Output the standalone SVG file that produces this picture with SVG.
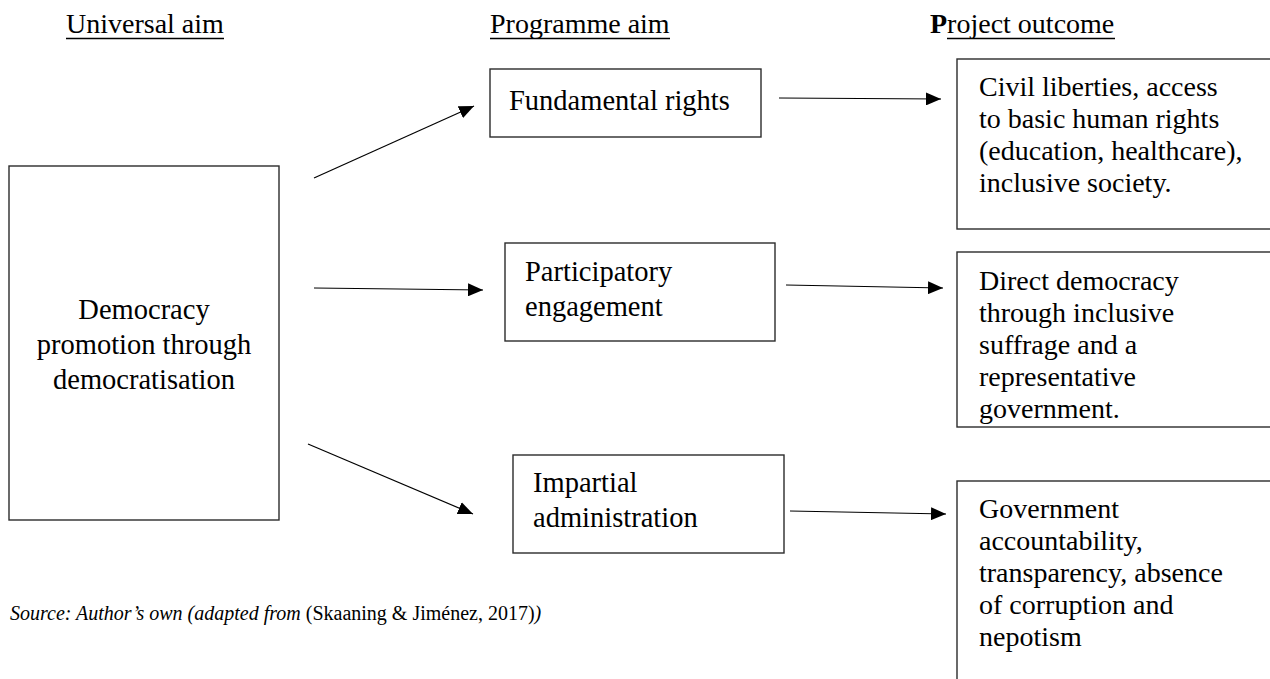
<svg xmlns="http://www.w3.org/2000/svg" width="1270" height="679" viewBox="0 0 1270 679">
  <defs>
    <marker id="arrow" markerWidth="15" markerHeight="13" refX="15" refY="6.5" orient="auto" markerUnits="userSpaceOnUse">
      <path d="M0,0 L15,6.5 L0,13 Z" fill="#000"/>
    </marker>
    <style>
      .box { fill: #fff; stroke: #2b2b2b; stroke-width: 1.4; }
      .lbl { font-family: "Liberation Serif", "Times New Roman", serif; font-size: 28.5px; fill: #000; }
      .out { font-family: "Liberation Serif", "Times New Roman", serif; font-size: 28px; fill: #000; }
      .head { font-family: "Liberation Serif", "Times New Roman", serif; font-size: 28px; fill: #000; }
      .ul { stroke: #000; stroke-width: 1.4; }
      .conn { stroke: #000; stroke-width: 1.2; fill: none; marker-end: url(#arrow); }
      .cap { font-family: "Liberation Serif", "Times New Roman", serif; font-size: 20px; fill: #000; }
    </style>
  </defs>
  <rect width="1270" height="679" fill="#fff"/>

  <!-- column headings -->
  <g id="headings">
    <text class="head" x="66" y="33">Universal aim</text>
    <line class="ul" x1="66" y1="38.5" x2="224" y2="38.5"/>
    <text class="head" x="490" y="33">Programme aim</text>
    <line class="ul" x1="490" y1="38.5" x2="670" y2="38.5"/>
    <text class="head" x="930" y="33"><tspan font-weight="bold">P</tspan>roject outcome</text>
    <line class="ul" x1="947" y1="38.5" x2="1115" y2="38.5"/>
  </g>

  <!-- universal aim -->
  <g id="node-democracy">
    <rect class="box" x="9" y="166" width="270" height="354"/>
    <text class="lbl" text-anchor="middle" x="144" y="319">Democracy</text>
    <text class="lbl" text-anchor="middle" x="144" y="354">promotion through</text>
    <text class="lbl" text-anchor="middle" x="144" y="389">democratisation</text>
  </g>

  <!-- programme aims -->
  <g id="node-fundamental">
    <rect class="box" x="490" y="69" width="271" height="68"/>
    <text class="lbl" x="509" y="110">Fundamental rights</text>
  </g>
  <g id="node-participatory">
    <rect class="box" x="505" y="243" width="270" height="98"/>
    <text class="lbl" x="525" y="281">Participatory</text>
    <text class="lbl" x="525" y="316">engagement</text>
  </g>
  <g id="node-impartial">
    <rect class="box" x="513" y="455" width="271" height="98"/>
    <text class="lbl" x="533" y="492">Impartial</text>
    <text class="lbl" x="533" y="527">administration</text>
  </g>

  <!-- project outcomes -->
  <g id="node-civil">
    <rect class="box" x="957" y="59" width="320" height="170"/>
    <text class="out" x="979" y="96">Civil liberties, access</text>
    <text class="out" x="979" y="128">to basic human rights</text>
    <text class="out" x="979" y="160">(education, healthcare),</text>
    <text class="out" x="979" y="192">inclusive society.</text>
  </g>
  <g id="node-direct">
    <rect class="box" x="957" y="252" width="320" height="175"/>
    <text class="out" x="979" y="290">Direct democracy</text>
    <text class="out" x="979" y="322">through inclusive</text>
    <text class="out" x="979" y="354">suffrage and a</text>
    <text class="out" x="979" y="386">representative</text>
    <text class="out" x="979" y="418">government.</text>
  </g>
  <g id="node-government">
    <rect class="box" x="957" y="481" width="320" height="220"/>
    <text class="out" x="979" y="518">Government</text>
    <text class="out" x="979" y="550">accountability,</text>
    <text class="out" x="979" y="582">transparency, absence</text>
    <text class="out" x="979" y="614">of corruption and</text>
    <text class="out" x="979" y="646">nepotism</text>
  </g>

  <!-- connectors -->
  <g id="connectors">
    <line class="conn" x1="314" y1="178" x2="474" y2="106"/>
    <line class="conn" x1="314" y1="288" x2="483" y2="290"/>
    <line class="conn" x1="308" y1="444" x2="473" y2="514"/>
    <line class="conn" x1="779" y1="98" x2="941" y2="99"/>
    <line class="conn" x1="786" y1="285" x2="943" y2="288"/>
    <line class="conn" x1="790" y1="511" x2="946" y2="514"/>
  </g>

  <!-- source note -->
  <text id="source" class="cap" x="10" y="620"><tspan font-style="italic">Source: Author’s own (adapted from </tspan>(Skaaning &amp; Jiménez, 2017)<tspan font-style="italic">)</tspan></text>
</svg>
